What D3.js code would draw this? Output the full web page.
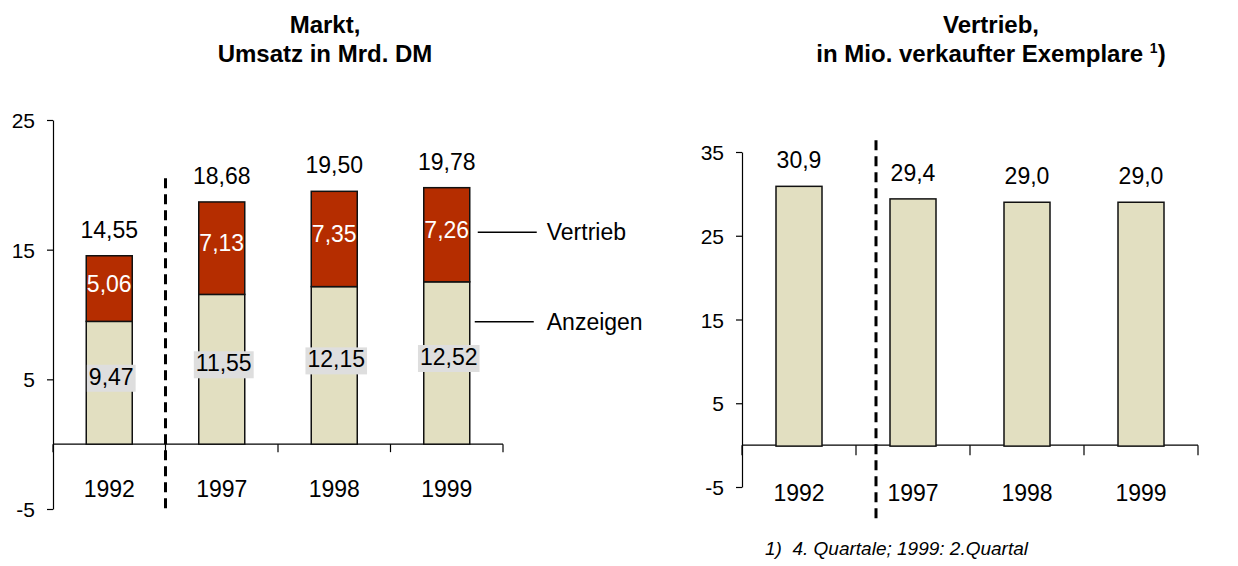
<!DOCTYPE html>
<html>
<head>
<meta charset="utf-8">
<script src="https://cdn.jsdelivr.net/npm/d3@7"></script>
<style>
  body { margin: 0; background: #fff; }
  svg { font-family: "Liberation Sans", Arial, sans-serif; }
</style>
</head>
<body>
<svg id="chart" width="1238" height="566"></svg>
<script>
// data
var years = ["1992", "1997", "1998", "1999"];
var anzeigen = [9.47, 11.55, 12.15, 12.52];
var vertrieb = [5.06, 7.13, 7.35, 7.26];
var umsatzTotal = [14.55, 18.68, 19.50, 19.78];
var exemplare = [30.9, 29.4, 29.0, 29.0];

var leftTicks = [-5, 5, 15, 25];
var rightTicks = [-5, 5, 15, 25, 35];

var beige = "#e2dfc1";
var red = "#b52d00";
var labelSize = "23px";

var de = d3.formatLocale({decimal: ",", thousands: ".", grouping: [3], currency: ["", " DM"]});
var f2 = de.format(".2f");
var f1 = de.format(".1f");

var svg = d3.select("#chart");

function title(cx, lines) {
  svg.append("text")
    .attr("x", cx).attr("y", 33)
    .attr("text-anchor", "middle")
    .attr("font-weight", "bold").attr("font-size", "24px")
    .text(lines[0]);
  var t2 = svg.append("text")
    .attr("x", cx).attr("y", 62)
    .attr("text-anchor", "middle")
    .attr("font-weight", "bold").attr("font-size", "24px")
    .text(lines[1]);
  if (lines[2]) {
    t2.append("tspan").attr("font-size", "14px").attr("dy", "-9").text(lines[2]);
    t2.append("tspan").attr("dy", "9").text(")");
  }
}

// draws the axes of one panel
function axes(x, y, ticks, xTick) {
  var x0 = x.range()[0], x1 = x.range()[1];

  svg.append("g")
    .attr("transform", "translate(" + x0 + ",0)")
    .call(d3.axisLeft(y).tickValues(ticks).tickFormat(d => String(d))
      .tickSize(6).tickSizeOuter(0).tickPadding(12))
    .call(g => g.selectAll("text").attr("font-size", "21px").attr("fill", "#000").attr("font-family", null).attr("dy", "0.36em"))
    .call(g => g.selectAll("line,path").attr("stroke", "#000").attr("stroke-width", 1.2));

  // horizontal zero line with ticks at the category borders
  svg.append("line")
    .attr("x1", x0).attr("x2", x1)
    .attr("y1", y(0)).attr("y2", y(0))
    .attr("stroke", "#000").attr("stroke-width", 1.2);

  var borders = years.map(d => x(d)).concat([x1]);
  svg.selectAll(null).data(borders).enter().append("line")
    .attr("x1", d => d).attr("x2", d => d)
    .attr("y1", y(0)).attr("y2", y(0) + xTick)
    .attr("stroke", "#000").attr("stroke-width", 1.2);
}

function yearLabels(x, ypos) {
  svg.selectAll(null).data(years).enter().append("text")
    .attr("x", d => x(d) + x.bandwidth() / 2)
    .attr("y", ypos)
    .attr("text-anchor", "middle")
    .attr("font-size", labelSize)
    .text(d => d);
}

function dashed(xpos, yTop, yBot) {
  svg.append("line")
    .attr("x1", xpos).attr("x2", xpos)
    .attr("y1", yTop).attr("y2", yBot)
    .attr("stroke", "#000").attr("stroke-width", 3)
    .attr("stroke-dasharray", "10,6");
}

/* ---------- left: Markt, Umsatz in Mrd. DM ---------- */
var xL = d3.scaleBand().domain(years).range([53, 503]).padding(0);
var yL = d3.scaleLinear().domain([-5, 25]).range([509, 120]);
var barW = 46;

title(325, ["Markt,", "Umsatz in Mrd. DM"]);
axes(xL, yL, leftTicks, 8);

var stackRows = years.map((d, i) => ({year: d, Anzeigen: anzeigen[i], Vertrieb: vertrieb[i]}));
var stacked = d3.stack().keys(["Anzeigen", "Vertrieb"])(stackRows);
var colors = {Anzeigen: beige, Vertrieb: red};

svg.selectAll("g.layer").data(stacked).enter().append("g")
  .attr("class", "layer")
  .attr("fill", d => colors[d.key])
  .selectAll("rect").data(d => d).enter().append("rect")
    .attr("x", d => xL(d.data.year) + xL.bandwidth() / 2 - barW / 2)
    .attr("width", barW)
    .attr("y", d => yL(d[1]))
    .attr("height", d => yL(d[0]) - yL(d[1]))
    .attr("stroke", "#111").attr("stroke-width", 1.5);

// totals
svg.selectAll(null).data(years).enter().append("text")
  .attr("x", d => xL(d) + xL.bandwidth() / 2)
  .attr("y", (d, i) => yL(umsatzTotal[i]) - 18)
  .attr("text-anchor", "middle").attr("font-size", labelSize)
  .text((d, i) => f2(umsatzTotal[i]));

// white labels in red segment
svg.selectAll(null).data(stacked[1]).enter().append("text")
  .attr("x", d => xL(d.data.year) + xL.bandwidth() / 2)
  .attr("y", d => yL((d[0] + d[1]) / 2) + 3)
  .attr("text-anchor", "middle").attr("font-size", labelSize)
  .attr("fill", "#fff")
  .text(d => f2(d.data.Vertrieb));

// Anzeigen labels on grey box
var anzLab = svg.selectAll("g.anz").data(stacked[0]).enter().append("g").attr("class", "anz");
anzLab.append("rect").attr("fill", "#dedede");
anzLab.append("text")
  .attr("x", d => xL(d.data.year) + xL.bandwidth() / 2 + 2)
  .attr("y", d => yL(d[1] / 2) + 2)
  .attr("text-anchor", "middle").attr("font-size", labelSize)
  .text(d => f2(d.data.Anzeigen));
anzLab.each(function() {
  var b = d3.select(this).select("text").node().getBBox();
  d3.select(this).select("rect")
    .attr("x", b.x - 2).attr("width", b.width + 4)
    .attr("y", b.y + 1).attr("height", b.height + 1);
});

dashed(xL("1997"), yL(20.5), yL(-5));
yearLabels(xL, 497);

// legend lines next to 1999
var legend = [{name: "Vertrieb", val: 16.35, off: 8}, {name: "Anzeigen", val: 9.45, off: 5}];
var barRight = xL("1999") + xL.bandwidth() / 2 + barW / 2;
svg.selectAll(null).data(legend).enter().append("line")
  .attr("x1", d => barRight + d.off).attr("x2", d => barRight + d.off + 59)
  .attr("y1", d => yL(d.val)).attr("y2", d => yL(d.val))
  .attr("stroke", "#000").attr("stroke-width", 1.5);
svg.selectAll(null).data(legend).enter().append("text")
  .attr("x", barRight + 77)
  .attr("y", d => yL(d.val) + 8)
  .attr("font-size", labelSize)
  .text(d => d.name);

/* ---------- right: Vertrieb, in Mio. verkaufter Exemplare ---------- */
var xR = d3.scaleBand().domain(years).range([742, 1198]).padding(0);
var yR = d3.scaleLinear().domain([-5, 35]).range([487, 152]);

title(991, ["Vertrieb,", "in Mio. verkaufter Exemplare ", "1"]);
axes(xR, yR, rightTicks, 10);

svg.selectAll("rect.ex").data(exemplare).enter().append("rect")
  .attr("class", "ex")
  .attr("x", (d, i) => xR(years[i]) + xR.bandwidth() / 2 - barW / 2)
  .attr("width", barW)
  .attr("y", d => yR(d))
  .attr("height", d => yR(0) - yR(d) + 1)
  .attr("fill", beige)
  .attr("stroke", "#111").attr("stroke-width", 1.5);

svg.selectAll(null).data(exemplare).enter().append("text")
  .attr("x", (d, i) => xR(years[i]) + xR.bandwidth() / 2)
  .attr("y", d => yR(d) - 18)
  .attr("text-anchor", "middle").attr("font-size", labelSize)
  .text(d => f1(d));

dashed(xR("1997") + 20, yR(36.4), yR(-9.2));
yearLabels(xR, 501);

// footnote
svg.append("text")
  .attr("x", 765).attr("y", 555)
  .attr("font-size", "19px").attr("font-style", "italic")
  .attr("xml:space", "preserve")
  .text("1)  4. Quartale; 1999: 2.Quartal");
</script>
</body>
</html>
